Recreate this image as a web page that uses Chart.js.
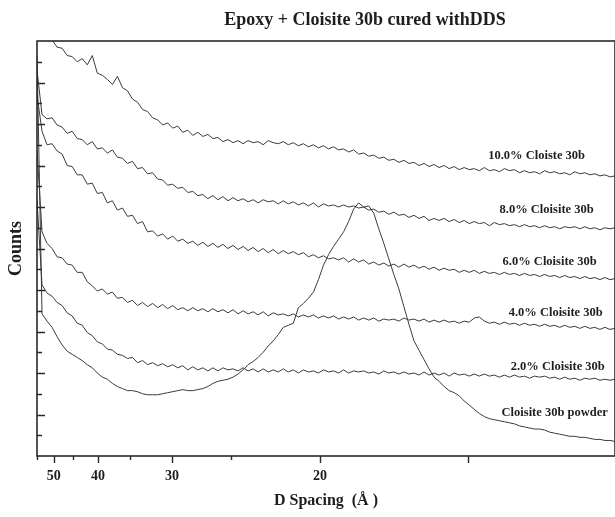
<!DOCTYPE html>
<html>
<head>
<meta charset="utf-8">
<script src="https://cdn.jsdelivr.net/npm/chart.js@4.4.1/dist/chart.umd.min.js"></script>
<style>
  html, body { margin: 0; padding: 0; background: #fff; }
</style>
</head>
<body>
<canvas id="xrdChart" width="615" height="517"></canvas>
<script>
// --- Data (x in degrees 2-theta, y in arbitrary counts) ---
const twoTheta = [
  1.60,1.65,1.70,1.75,1.80,1.85,1.90,1.95,2.00,2.05,
  2.10,2.15,2.20,2.25,2.30,2.35,2.40,2.45,2.50,2.55,
  2.60,2.65,2.70,2.75,2.80,2.85,2.90,2.95,3.00,3.05,
  3.10,3.15,3.20,3.25,3.30,3.35,3.40,3.45,3.50,3.55,
  3.60,3.65,3.70,3.75,3.80,3.85,3.90,3.95,4.00,4.05,
  4.10,4.15,4.20,4.25,4.30,4.35,4.40,4.45,4.50,4.55,
  4.60,4.65,4.70,4.75,4.80,4.85,4.90,4.95,5.00,5.05,
  5.10,5.15,5.20,5.25,5.30,5.35,5.40,5.45,5.50,5.55,
  5.60,5.65,5.70,5.75,5.80,5.85,5.90,5.95,6.00,6.05,
  6.10,6.15,6.20,6.25,6.30,6.35,6.40,6.45,6.50,6.55,
  6.60,6.65,6.70,6.75,6.80,6.85,6.90,6.95,7.00,7.05,
  7.10,7.15,7.20,7.25,7.30,7.35
];

const counts10 = [
  470,432,409,401,394,393,386,385,380,383,
  377,386,369,367,363,358,366,355,352,344,
  341,334,332,326,324,319,321,316,318,312,
  314,309,312,308,310,306,307,303,305,302,
  304,301,304,302,303,300,304,302,301,303,
  300,302,299,301,298,300,297,299,296,298,
  295,296,293,295,291,292,289,290,287,288,
  285,286,283,285,282,283,280,282,279,281,
  278,280,277,279,276,278,276,277,275,278,
  275,276,274,277,275,276,273,275,273,274,
  272,275,273,274,272,273,271,274,272,273,
  271,272,270,271,269,270
];

const counts8 = [
  372,329,325,326,319,317,311,313,306,305,
  300,303,296,297,292,295,288,287,282,284,
  277,278,272,273,267,266,261,262,258,259,
  254,255,251,252,248,251,247,250,246,249,
  246,248,245,247,244,247,245,246,243,246,
  243,245,242,244,241,244,240,243,241,242,
  240,242,240,241,239,240,237,238,235,236,
  233,235,232,233,230,232,229,231,227,229,
  227,229,226,228,225,227,224,226,224,225,
  222,225,223,224,222,223,221,223,221,222,
  220,222,220,221,219,221,220,221,219,221,
  219,220,218,220,219,220
];

const counts6 = [
  348,313,300,301,294,291,280,279,271,271,
  262,263,253,254,244,246,237,239,231,232,
  224,226,216,217,212,214,209,212,207,209,
  205,207,203,206,202,205,201,204,200,203,
  199,202,198,201,197,200,196,199,195,198,
  195,197,194,196,192,194,191,193,190,191,
  189,191,187,190,187,189,185,187,184,186,
  183,185,182,185,182,184,181,183,180,182,
  179,181,179,180,177,179,177,179,176,178,
  176,177,175,177,175,176,174,176,174,175,
  173,175,173,174,172,174,172,173,171,173,
  171,172,170,172,170,171
];

const counts4 = [
  295,216,205,200,192,191,185,184,177,177,
  168,164,159,161,156,158,152,153,148,150,
  145,148,144,147,143,146,142,145,141,143,
  140,143,140,142,139,142,139,141,138,141,
  137,140,137,139,136,139,135,138,136,137,
  135,137,134,136,134,136,133,135,133,135,
  132,134,132,134,131,133,131,133,130,132,
  131,132,130,133,131,132,130,132,129,131,
  129,131,129,130,128,130,129,133,134,130,
  128,129,127,129,127,128,126,128,126,127,
  125,127,125,126,124,126,124,125,123,125,
  123,124,122,124,122,123
];

const counts2 = [
  247,165,157,154,148,145,138,135,128,126,
  119,116,110,108,103,102,98,97,94,95,
  90,92,88,90,87,89,86,88,85,87,
  83,86,83,85,82,85,82,85,83,84,
  82,85,82,84,81,84,81,83,81,84,
  81,83,80,83,81,82,80,83,81,82,
  80,83,80,82,81,82,80,81,79,82,
  80,81,79,81,79,80,78,81,78,80,
  78,80,77,80,78,79,77,79,77,79,
  77,78,76,78,76,78,76,77,75,77,
  76,77,75,76,74,76,74,75,73,75,
  74,75,73,74,73,74
];

const countsPowder = [
  386,137,130,124,115,107,101,98,95,92,
  88,85,80,76,74,70,67,65,63,63,
  62,60,59,59,59,60,61,62,63,64,
  63,63,64,65,67,70,72,73,74,76,
  79,83,88,91,95,100,106,111,117,124,
  126,128,143,147,152,158,170,184,194,202,
  209,216,226,238,244,240,241,234,219,205,
  190,175,161,144,127,111,102,93,84,76,
  72,67,63,61,58,53,49,45,41,38,
  36,35,34,33,32,31,29,28,27,26,
  26,25,23,22,21,20,19,19,18,18,
  17,16,16,15,15,14
];

const seriesNames = [
  '10.0% Cloiste 30b',
  '8.0% Cloisite 30b',
  '6.0% Cloisite 30b',
  '4.0% Cloisite 30b',
  '2.0% Cloisite 30b',
  'Cloisite 30b powder'
];
const seriesCounts = [counts10, counts8, counts6, counts4, counts2, countsPowder];

// D spacing ticks (Angstrom) and which get a printed label
const dTicks  = [55, 50, 45, 40, 35, 30, 25, 20, 15];
const dLabels = ['', '50', '', '40', '', '30', '', '20', ''];
const dMajor  = [false, true, false, true, false, true, false, true, true];

// --- Helpers ---
const LAMBDA = 1.5406; // Cu K-alpha
function dToTwoTheta(d) {
    return 2 * Math.asin(LAMBDA / (2 * d)) * 180 / Math.PI;
}

const SERIF = '"Liberation Serif", "Times New Roman", serif';
const INK = '#1e1e1e';
const LINE = '#3a3a3a';

// label anchors for each curve, in data units (2-theta, counts)
const labelSpots = [[6.57, 289], [6.67, 237], [6.70, 187], [6.76, 138], [6.78, 86], [6.75, 42]];

// --- Frame, inward ticks, title and curve labels ---
const decorPlugin = {
    id: 'decor',
    afterDraw(chart) {
        const ctx = chart.ctx;
        const a = chart.chartArea;
        const xs = chart.scales.x;
        const ys = chart.scales.y;
        ctx.save();

        // frame
        ctx.strokeStyle = '#2a2a2a';
        ctx.lineWidth = 1.6;
        ctx.strokeRect(a.left, a.top, a.right - a.left, a.bottom - a.top);

        // y ticks pointing inward, major every 40
        ctx.lineWidth = 1.4;
        ctx.beginPath();
        for (let v = 20; v < 400; v += 20) {
            const py = Math.round(ys.getPixelForValue(v)) + 0.5;
            const len = (v % 40 === 0) ? 8 : 5;
            ctx.moveTo(a.left, py);
            ctx.lineTo(a.left + len, py);
        }
        // x ticks pointing down
        dTicks.forEach((d, i) => {
            const px = Math.round(xs.getPixelForValue(dToTwoTheta(d))) + 0.5;
            const len = dMajor[i] ? 7 : 4;
            ctx.moveTo(px, a.bottom);
            ctx.lineTo(px, a.bottom + len);
        });
        ctx.stroke();

        // chart title
        ctx.fillStyle = INK;
        ctx.font = 'bold 18px ' + SERIF;
        ctx.textAlign = 'center';
        ctx.textBaseline = 'middle';
        ctx.fillText('Epoxy + Cloisite 30b cured withDDS', 365, 20);

        // curve labels
        ctx.font = 'bold 12.5px ' + SERIF;
        seriesNames.forEach((name, i) => {
            const [lx, ly] = labelSpots[i];
            ctx.fillText(name, xs.getPixelForValue(lx), ys.getPixelForValue(ly));
        });
        ctx.restore();
    }
};

// --- Chart ---
const datasets = seriesCounts.map((arr, k) => ({
    label: seriesNames[k],
    data: twoTheta.map((t, i) => ({ x: t, y: arr[i] })),
    borderColor: LINE,
    borderWidth: 1,
    pointRadius: 0,
    fill: false,
    tension: 0
}));

new Chart(document.getElementById('xrdChart').getContext('2d'), {
    type: 'line',
    data: { datasets: datasets },
    options: {
        responsive: false,
        animation: false,
        layout: { padding: { top: 41, left: 0, right: 0, bottom: 0 } },
        plugins: {
            legend: { display: false },
            tooltip: { enabled: false },
            title: { display: false }
        },
        scales: {
            x: {
                type: 'linear',
                min: 1.6,
                max: 7.35,
                afterBuildTicks: (scale) => {
                    scale.ticks = dTicks.map(d => ({ value: dToTwoTheta(d) }));
                },
                afterFit: (scale) => { scale.height = 61; },
                grid: { display: false, drawTicks: false },
                border: { display: false },
                ticks: {
                    autoSkip: false,
                    maxRotation: 0,
                    minRotation: 0,
                    padding: 12,
                    color: INK,
                    font: { family: SERIF, size: 14, weight: 'bold' },
                    callback: (value, index) => dLabels[index]
                },
                title: {
                    display: true,
                    text: 'D Spacing  (Å )',
                    color: INK,
                    font: { family: SERIF, size: 16, weight: 'bold' },
                    padding: { top: 0, bottom: 7 }
                }
            },
            y: {
                min: 0,
                max: 400,
                afterFit: (scale) => { scale.width = 37; },
                grid: { display: false, drawTicks: false },
                border: { display: false },
                ticks: { display: false },
                title: {
                    display: true,
                    text: 'Counts',
                    color: INK,
                    font: { family: SERIF, size: 18, weight: 'bold' },
                    padding: { top: 6, bottom: 0 }
                }
            }
        }
    },
    plugins: [decorPlugin]
});
</script>
</body>
</html>
